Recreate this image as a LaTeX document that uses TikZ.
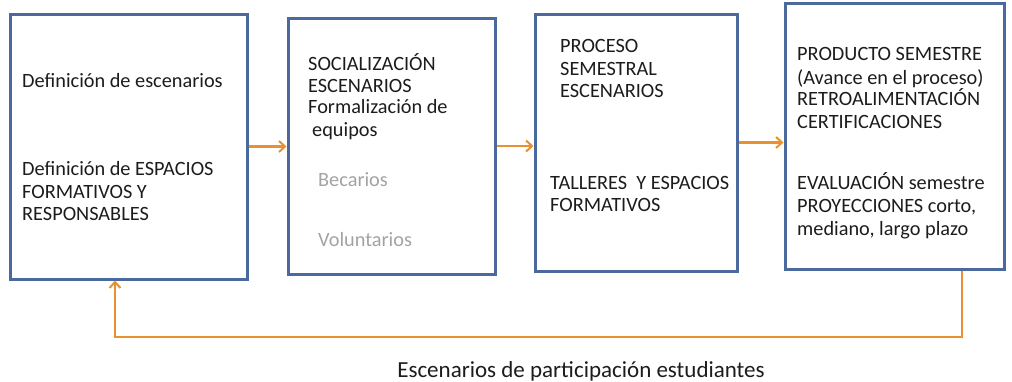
\documentclass[tikz,border=0pt]{standalone}
\usepackage{fontspec}
\setmainfont{Carlito}
\usetikzlibrary{arrows.meta}
\definecolor{bx}{HTML}{4A699C}
\definecolor{orng}{HTML}{E8922F}
\definecolor{lgray}{HTML}{A3A3A3}
\definecolor{txt}{HTML}{1C1C1C}
\tikzset{
  box/.style={draw=bx, line width=3pt, rectangle, inner sep=0pt},
  arr/.style={draw=orng, line width=2.2pt, -{Straight Barb[length=6pt,width=11pt,line width=2pt]}},
  lbl/.style={anchor=base west, inner sep=0pt, text=txt, font=\fontsize{20.3}{24}\selectfont},
  glbl/.style={lbl, text=lgray},
  captionlbl/.style={anchor=base, inner sep=0pt, text=txt, font=\fontsize{23}{27}\selectfont}
}
\begin{document}
\begin{tikzpicture}[x=1pt,y=-1pt]
\useasboundingbox (0,0) rectangle (1012,381);
% boxes
\node[box, minimum width=237pt, minimum height=265pt] (b1) at (128.5,146.5) {};
\node[box, minimum width=207pt, minimum height=256pt] (b2) at (391.5,146) {};
\node[box, minimum width=202pt, minimum height=257pt] (b3) at (636,142.5) {};
\node[box, minimum width=219pt, minimum height=266pt] (b4) at (894.5,136) {};
% box 1 text
\node[lbl] (t11) at (22,87) {Definición de escenarios};
\node[lbl] (t12) at (22,175) {Definición de ESPACIOS};
\node[lbl] (t13) at (22,198) {FORMATIVOS Y};
\node[lbl] (t14) at (22,220) {RESPONSABLES};
% box 2 text
\node[lbl] (t21) at (308,70) {SOCIALIZACIÓN};
\node[lbl] (t22) at (308,92) {ESCENARIOS};
\node[lbl] (t23) at (308,113) {Formalización de};
\node[lbl] (t24) at (312,136) {equipos};
\node[glbl] (t25) at (318,186) {Becarios};
\node[glbl] (t26) at (318,246) {Voluntarios};
% box 3 text
\node[lbl] (t31) at (560,52) {PROCESO};
\node[lbl] (t32) at (560,75) {SEMESTRAL};
\node[lbl] (t33) at (560,97) {ESCENARIOS};
\node[lbl] (t34) at (550,189) {TALLERES\ \ Y ESPACIOS};
\node[lbl] (t35) at (550,211) {FORMATIVOS};
% box 4 text
\node[lbl] (t41) at (797,60) {PRODUCTO SEMESTRE};
\node[lbl] (t42) at (797,84) {(Avance en el proceso)};
\node[lbl] (t43) at (797,105) {RETROALIMENTACIÓN};
\node[lbl] (t44) at (797,128) {CERTIFICACIONES};
\node[lbl] (t45) at (797,189) {EVALUACIÓN semestre};
\node[lbl] (t46) at (797,212) {PROYECCIONES corto,};
\node[lbl] (t47) at (797,235) {mediano, largo plazo};
% caption
\node[captionlbl] (cp) at (581,377) {Escenarios de participación estudiantes};
% arrows
\draw[arr] (b1.east) -- (b1.east -| b2.west);
\draw[arr] (b2.east) -- (b2.east -| b3.west);
\draw[arr] (b3.east) -- (b3.east -| b4.west);
\coordinate (r) at (962,337);
\coordinate (q) at (115,337);
\draw[arr] (r |- b4.south) -- (r) -- (q) -- (q |- b1.south);
\end{tikzpicture}
\end{document}
